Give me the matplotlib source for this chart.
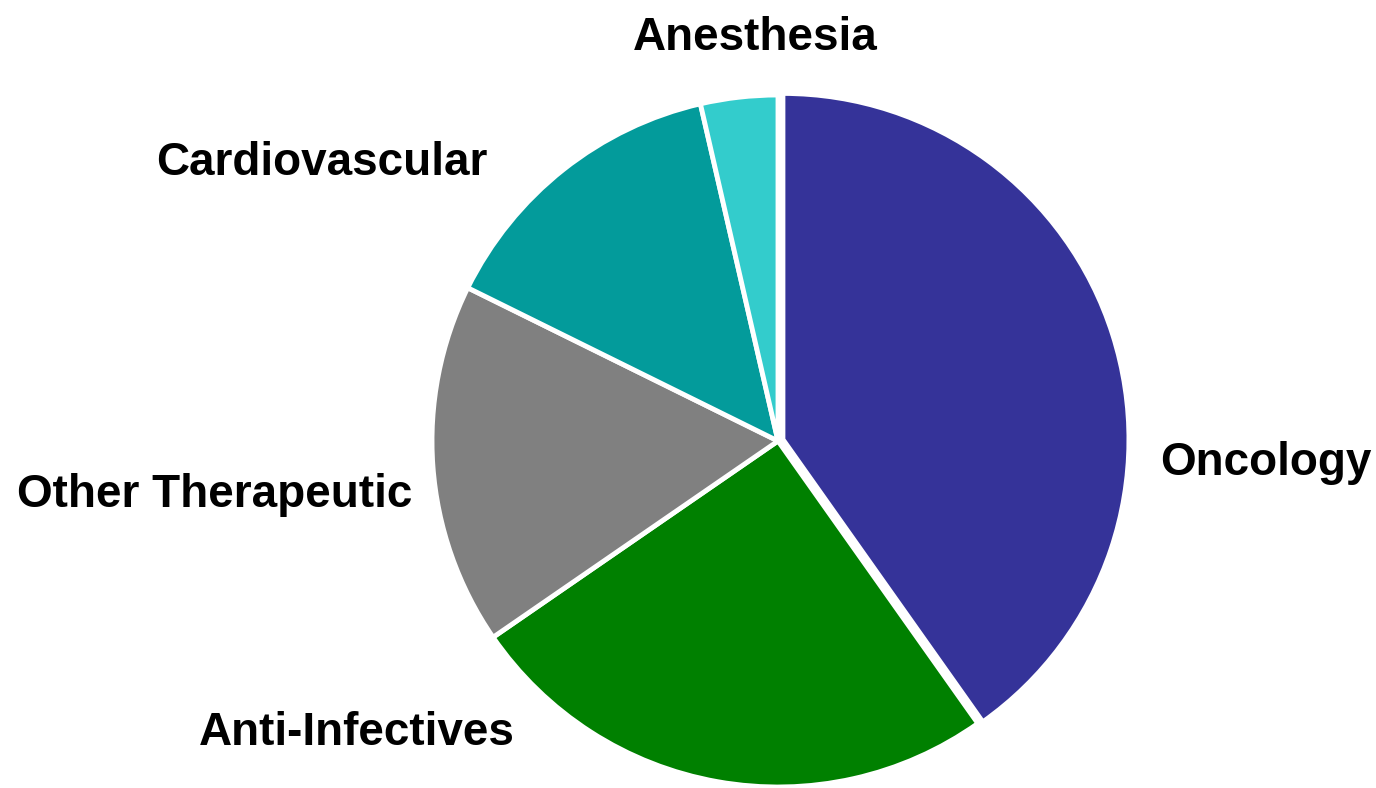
import matplotlib.pyplot as plt

categories = ['Oncology', 'Anti-Infectives', 'Other Therapeutic', 'Cardiovascular', 'Anesthesia']
shares = [40.2, 25.2, 16.9, 14.1, 3.6]
colors = ['#353399', '#008000', '#808080', '#039B9B', '#33CCCC']
explode = [0.015, 0, 0, 0, 0]

W, H = 1376, 788
cx, cy, r = 778, 441, 346

fig = plt.figure(figsize=(W / 100, H / 100), dpi=100)
ax = fig.add_axes([0, 0, 1, 1])

ax.pie(shares, colors=colors, explode=explode, startangle=90, counterclock=False,
       radius=1, wedgeprops=dict(edgecolor='white', linewidth=3.5))

# axis limits so the pie lands where it sits in the reference
ax.set_xlim(-cx / r, (W - cx) / r)
ax.set_ylim((cy - H) / r, cy / r)
ax.set_aspect('equal')
ax.axis('off')

# label anchors in pixel coords (x, y, ha)
label_pos = [(1160, 463, 'left'), (515, 733, 'right'), (412, 495, 'right'),
             (488, 163, 'right'), (755, 38, 'center')]
for name, (px, py, ha) in zip(categories, label_pos):
    ax.text((px - cx) / r, (cy - py) / r, name, ha=ha, va='center',
            fontsize=33, fontweight='bold', family='Liberation Sans')

fig.savefig('out.png', dpi=100)
